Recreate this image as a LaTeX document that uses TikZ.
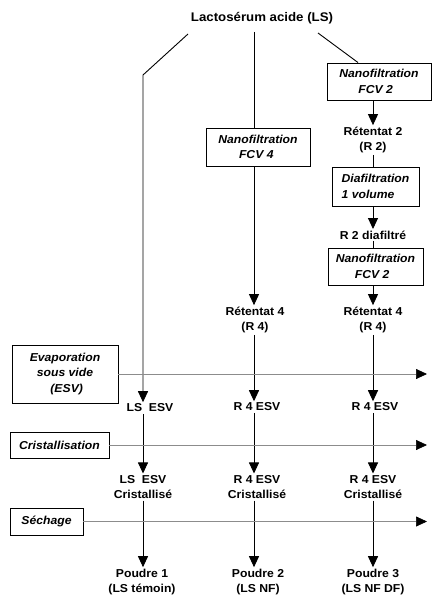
\documentclass[tikz,border=0pt]{standalone}
\usepackage{fontspec}
\setmainfont[FakeStretch=1.06]{Liberation Sans}
\usetikzlibrary{arrows.meta}
\tikzset{
  txt/.style={font=\fontsize{11.5}{15.5}\selectfont\bfseries, align=center, inner sep=1.5pt},
  proc/.style={draw, line width=0.9pt, font=\fontsize{11.5}{15.5}\selectfont\bfseries\itshape, align=center, inner sep=0pt},
  arr/.style={line width=0.9pt, -{Triangle[width=10pt,length=11pt]}},
  ln/.style={line width=0.9pt},
  hl/.style={line width=0.7pt, draw=black!45, -{Triangle[width=10pt,length=11pt,color=black]}}
}
\begin{document}
\begin{tikzpicture}[x=1pt,y=-1pt]
\useasboundingbox (0,0) rectangle (432,596);
% title
\node[txt, font=\fontsize{12.5}{15}\selectfont\bfseries] (ls) at (262,18) {Lactosérum acide (LS)};
% process boxes
\node[proc, minimum width=104pt, minimum height=37pt] (nfa) at (379,81.5) {Nanofiltration\\FCV 2\ \ \ };
\node[proc, minimum width=104pt, minimum height=38pt] (nf4) at (258,147) {Nanofiltration\\FCV 4\ \ };
\node[proc, minimum width=87pt, minimum height=39pt, align=left] (dia) at (375.5,186.5) {Diafiltration\\1 volume};
\node[proc, minimum width=95pt, minimum height=37pt] (nfb) at (375.5,266.5) {Nanofiltration\\FCV 2\ \ \ };
\node[proc, minimum width=106pt, minimum height=58pt] (evap) at (65,374) {Evaporation\\sous vide\\ \ (ESV)};
\node[proc, minimum width=99pt, minimum height=26pt] (cris) at (59.5,445) {Cristallisation};
\node[proc, minimum width=73pt, minimum height=27pt] (sech) at (46.5,521.5) {Séchage};
% text nodes
\node[txt] (ret2) at (373,140) {Rétentat 2\\(R 2)};
\node[txt] (r2d) at (373,235) {R 2 diafiltré};
\node[txt] (ret4m) at (255,320) {Rétentat 4\\(R 4)};
\node[txt] (ret4r) at (373,320) {Rétentat 4\\(R 4)};
\node[txt] (esvl) at (150,408) {LS\ \ ESV};
\node[txt] (esvm) at (257,407) {R 4 ESV};
\node[txt] (esvr) at (375,407) {R 4 ESV};
\node[txt] (crl) at (143,487) {LS\ \ ESV\\Cristallisé};
\node[txt] (crm) at (257,487) {R 4 ESV\\Cristallisé};
\node[txt] (crr) at (373,487) {R 4 ESV\\Cristallisé};
\node[txt] (p1) at (142,582) {Poudre 1\\(LS témoin)};
\node[txt] (p2) at (258,582) {Poudre 2\\(LS NF)};
\node[txt] (p3) at (373,582) {Poudre 3\\(LS NF DF)};
% column coordinates
\coordinate (cL) at (143,0);
\coordinate (cM) at (254,0);
\coordinate (cR) at (373,0);
\coordinate (tl) at (188,34);
\coordinate (bl) at (143,75);
\coordinate (tm) at (254,32);
\coordinate (tr) at (318,33);
\coordinate (br) at (358,0);
\coordinate (eL) at (427,0);
% branches from title
\draw[arr] (tl) -- (bl) -- (bl |- esvl.north);
\draw[ln] (tm) -- (tm |- nf4.north);
\draw[ln] (tr) -- (br |- nfa.north);
% middle column
\draw[arr] (cM |- nf4.south) -- (cM |- ret4m.north);
\draw[arr] (cM |- ret4m.south) -- (cM |- esvm.north);
\draw[arr] (cM |- esvm.south) -- (cM |- crm.north);
\draw[arr] (cM |- crm.south) -- (cM |- p2.north);
% right column
\draw[arr] (cR |- nfa.south) -- (cR |- ret2.north);
\draw[ln] (cR |- ret2.south) -- (cR |- dia.north);
\draw[arr] (cR |- dia.south) -- (cR |- r2d.north);
\draw[ln] (cR |- r2d.south) -- (cR |- nfb.north);
\draw[arr] (cR |- nfb.south) -- (cR |- ret4r.north);
\draw[arr] (cR |- ret4r.south) -- (cR |- esvr.north);
\draw[arr] (cR |- esvr.south) -- (cR |- crr.north);
\draw[arr] (cR |- crr.south) -- (cR |- p3.north);
% left column
\draw[arr] (cL |- esvl.south) -- (cL |- crl.north);
\draw[arr] (cL |- crl.south) -- (cL |- p1.north);
% horizontal stage lines
\draw[hl] (evap.east) -- (eL |- evap.east);
\draw[hl] (cris.east) -- (eL |- cris.east);
\draw[hl] (sech.east) -- (eL |- sech.east);
\end{tikzpicture}
\end{document}
